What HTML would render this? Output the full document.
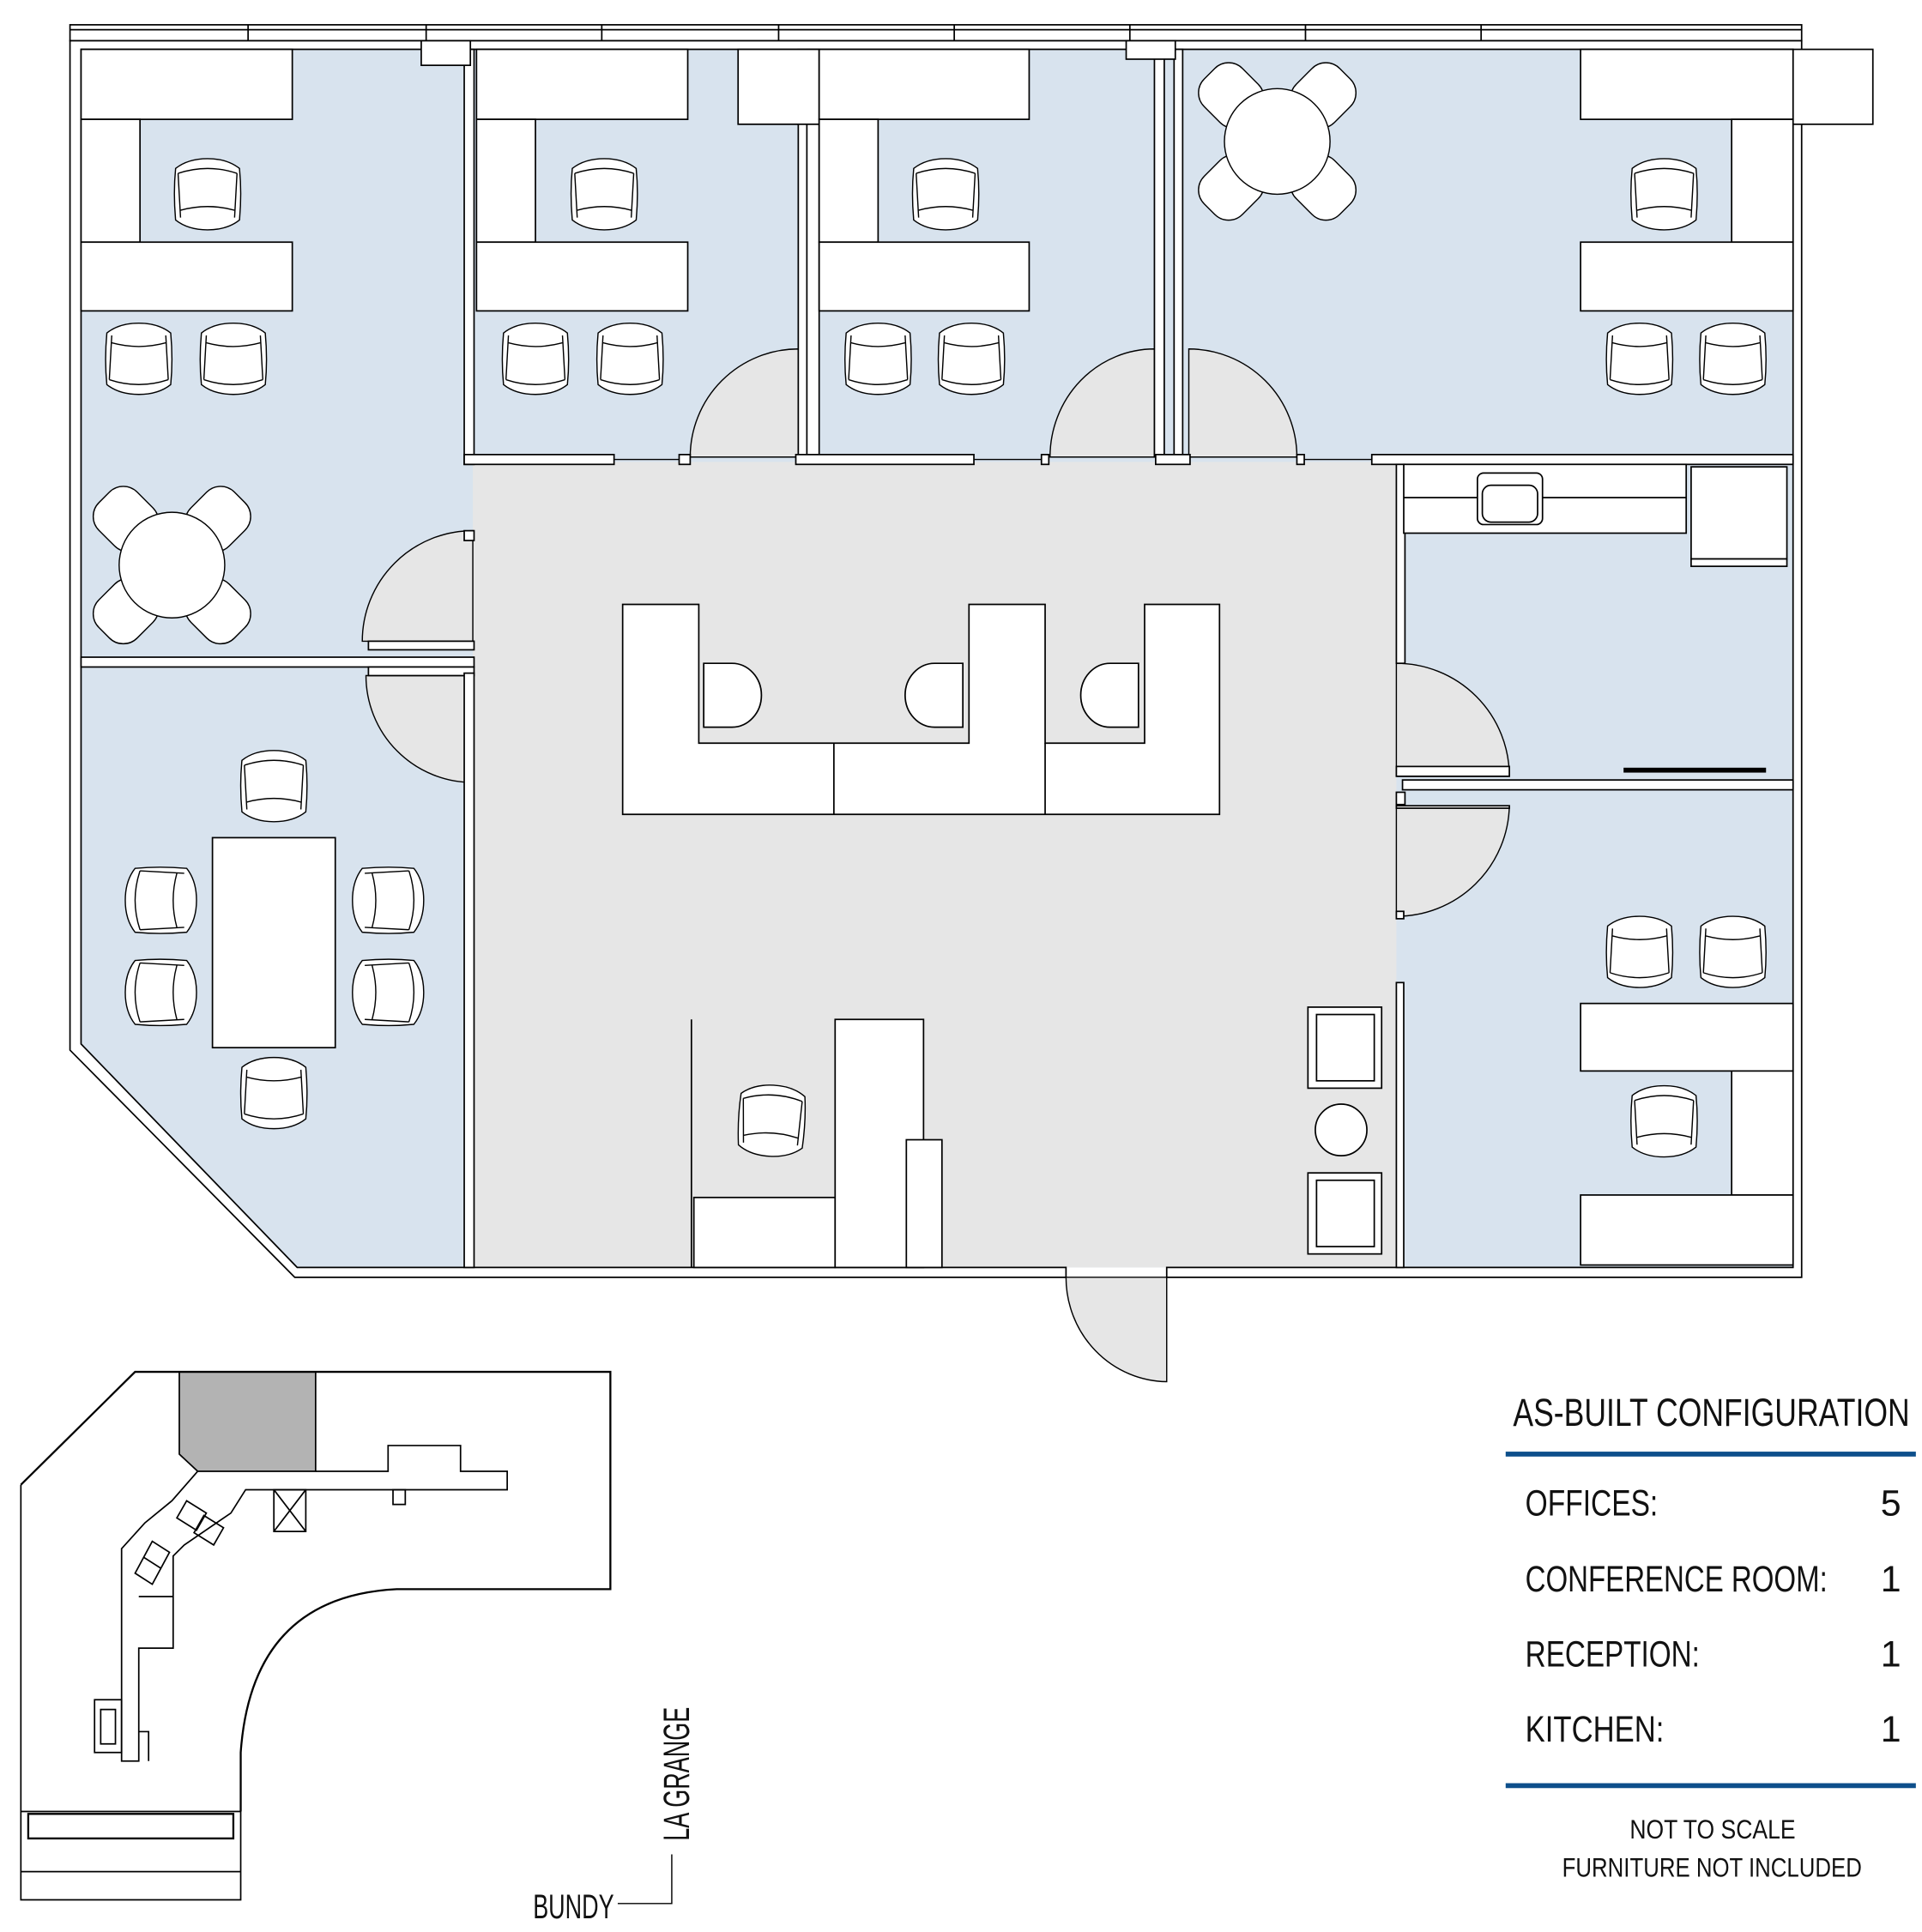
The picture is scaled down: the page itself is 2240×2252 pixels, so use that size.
<!DOCTYPE html>
<html><head><meta charset="utf-8"><style>
html,body{margin:0;padding:0;background:#fff}
svg{display:block}
text{font-family:"Liberation Sans Narrow","Liberation Sans",sans-serif;fill:#111}
</style></head><body>
<svg width="2240" height="2252" viewBox="0 0 1565 1573" xmlns="http://www.w3.org/2000/svg">
<defs>
<g id="ch" stroke="#000" stroke-width="1" fill="#fff">
<path d="M4,10 Q2,30 4,52 Q14,60 30,60 Q46,60 56,52 Q58,30 56,10 Q46,2 30,2 Q14,2 4,10Z"/>
<path d="M6,14 Q30,6 54,14 M6,14 L8,50 M54,14 L52,50"/>
<path d="M8,44 Q30,38 52,44" fill="none"/>
</g>
<g id="chu"><use href="#ch" transform="translate(0,60) scale(1,-1)"/></g>
<g id="rt" stroke="#000" stroke-width="1" fill="#fff">
<g transform="rotate(45)"><rect x="-22" y="-78" width="44" height="50" rx="16"/><rect x="-22" y="28" width="44" height="50" rx="16"/></g>
<g transform="rotate(-45)"><rect x="-22" y="-78" width="44" height="50" rx="16"/><rect x="-22" y="28" width="44" height="50" rx="16"/></g>
<circle r="43" fill="#fff"/>
</g>
</defs>
<g stroke="#000" stroke-width="1.2">
<rect x="57" y="20" width="1410" height="13" fill="#fff"/>
<path d="M57,24 H1467 M202,20 V33 M347,20 V33 M490,20 V33 M634,20 V33 M777,20 V33 M920,20 V33 M1063,20 V33 M1206,20 V33" fill="none"/>
<path d="M66,40 H1460 V1032 H242 L66,850 Z" fill="#d8e3ee" stroke="none"/>
<rect x="385" y="376" width="752" height="656" fill="#e6e6e6" stroke="none"/>
<path d="M57,33 H1467 V1040 H950 V1032 H1460 V40 H66 V850 L242,1032 H868 V1040 H240 L57,855 Z" fill="#fff"/>
<path d="M385,522 L385,432 A90,90 0 0 0 295,522 Z" fill="#e6e6e6" stroke-width="1"/>
<path d="M385,550 L298,550 A87,87 0 0 0 385,637 Z" fill="#e6e6e6" stroke-width="1"/>
<path d="M650,372 L562,372 A88,88 0 0 1 650,284 Z" fill="#e6e6e6" stroke-width="1"/>
<path d="M940,372 L855,372 A85,88 0 0 1 940,284 Z" fill="#e6e6e6" stroke-width="1"/>
<path d="M968,372 L968,284 A88,88 0 0 1 1056,372 Z" fill="#e6e6e6" stroke-width="1"/>
<path d="M1137,540 A92,92 0 0 1 1229,632 L1137,632 Z" fill="#e6e6e6" stroke-width="1"/>
<path d="M1229,656 A92,92 0 0 1 1137,746 L1137,656 Z" fill="#e6e6e6" stroke-width="1"/>
<path d="M868,1040 L950,1040 L950,1125 A83,85 0 0 1 868,1040 Z" fill="#e6e6e6" stroke-width="1"/>
<g fill="#fff">
<rect x="378" y="40" width="8" height="338"/>
<rect x="343" y="33" width="40" height="20"/>
<rect x="650" y="40" width="9" height="334"/>
<rect x="657" y="40" width="10" height="332"/>
<rect x="940" y="40" width="8" height="332"/>
<rect x="956" y="40" width="7" height="332"/>
<rect x="917" y="33" width="40" height="15"/>
<rect x="378" y="370" width="122" height="8"/>
<rect x="648" y="370" width="145" height="8"/>
<rect x="941" y="370" width="28" height="8"/>
<rect x="1117" y="370" width="343" height="8"/>
<rect x="66" y="535" width="320" height="8"/>
<rect x="300" y="522" width="86" height="7"/>
<rect x="300" y="543" width="86" height="7"/>
<rect x="378" y="432" width="8" height="8"/>
<rect x="1137" y="378" width="7" height="162"/>
<rect x="1137" y="624" width="92" height="8"/>
<rect x="1142" y="635" width="318" height="8"/>
<rect x="1137" y="645" width="7" height="10"/>
<rect x="1137" y="656" width="92" height="2"/>
<rect x="1137" y="800" width="6" height="232"/>
<rect x="1137" y="742" width="6" height="6"/>
<rect x="378" y="548" width="8" height="484"/>
<rect x="553" y="370" width="9" height="8"/>
<rect x="848" y="370" width="6" height="8"/>
<rect x="1056" y="370" width="6" height="8"/>
<rect x="1460" y="40" width="65" height="61"/>
</g>
<path d="M500,374 H553 M793,374 H848 M1062,374 H1117" fill="none" stroke-width="1"/>
<g fill="#fff">
<rect x="66" y="40" width="172" height="57"/><rect x="66" y="97" width="48" height="100"/><rect x="66" y="197" width="172" height="56"/>
<rect x="388" y="40" width="172" height="57"/><rect x="388" y="97" width="48" height="100"/><rect x="388" y="197" width="172" height="56"/>
<rect x="601" y="40" width="66" height="61"/>
<rect x="667" y="40" width="171" height="57"/><rect x="667" y="97" width="48" height="100"/><rect x="667" y="197" width="171" height="56"/>
<rect x="1287" y="40" width="173" height="57"/><rect x="1410" y="97" width="50" height="100"/><rect x="1287" y="197" width="173" height="56"/>
<rect x="1143" y="378" width="230" height="56"/><line x1="1143" y1="405" x2="1373" y2="405"/>
<rect x="1203" y="385" width="53" height="42" rx="5"/><rect x="1207" y="395" width="45" height="30" rx="7"/>
<rect x="1377" y="380" width="78" height="75"/><rect x="1377" y="455" width="78" height="6"/>
<rect x="1287" y="817" width="173" height="55"/><rect x="1410" y="872" width="50" height="101"/><rect x="1287" y="973" width="173" height="57"/>
<rect x="173" y="682" width="100" height="171"/>
<path d="M507,492 H569 V605 H789 V492 H851 V605 H932 V492 H993 V663 H507 Z"/>
<path d="M679,605 V663 M851,605 V663" fill="none"/>
<path d="M573,540 H596 A24,26 0 0 1 596,592 H573 Z"/>
<path d="M784,540 H761 A24,26 0 0 0 761,592 H784 Z"/>
<path d="M927,540 H904 A24,26 0 0 0 904,592 H927 Z"/>
<rect x="565" y="975" width="115" height="57"/><rect x="680" y="830" width="72" height="202"/><rect x="738" y="928" width="29" height="104"/>
<line x1="563" y1="830" x2="563" y2="1032"/>
<rect x="1065" y="820" width="60" height="66"/><rect x="1072" y="826" width="47" height="54"/>
<rect x="1065" y="955" width="60" height="66"/><rect x="1072" y="961" width="47" height="54"/>
<circle cx="1092" cy="920" r="21"/>
</g>
<rect x="1322" y="625" width="116" height="4" fill="#000" stroke="none"/>
</g>
<use href="#ch" x="139" y="127"/><use href="#chu" x="83" y="263"/><use href="#chu" x="160" y="263"/>
<use href="#ch" x="462" y="127"/><use href="#chu" x="406" y="263"/><use href="#chu" x="483" y="263"/>
<use href="#ch" x="740" y="127"/><use href="#chu" x="685" y="263"/><use href="#chu" x="761" y="263"/>
<use href="#ch" x="1325" y="127"/><use href="#chu" x="1305" y="263"/><use href="#chu" x="1381" y="263"/>
<use href="#chu" x="1305" y="746"/><use href="#chu" x="1381" y="746"/><use href="#ch" x="1325" y="882"/>
<use href="#ch" x="193" y="609"/><use href="#chu" x="193" y="861"/>
<use href="#ch" transform="translate(100,763) rotate(-90)"/><use href="#ch" transform="translate(100,838) rotate(-90)"/>
<use href="#ch" transform="translate(347,703) rotate(90)"/><use href="#ch" transform="translate(347,778) rotate(90)"/>
<use href="#ch" transform="translate(600,880) rotate(3)"/>
<use href="#rt" transform="translate(140,460)"/>
<use href="#rt" transform="translate(1040,115)"/>
<!-- minimap -->
<g stroke="#000" fill="none" stroke-width="1.2">
<path d="M146,1117 H257 V1198 H161 L146,1184 Z" fill="#b3b3b3"/>
<path d="M17,1209 L110,1117 H497 V1294 H323 Q205,1300 196,1427 V1475" stroke-width="1.6"/>
<path d="M17,1209 V1475"/>
<path d="M17,1475 V1547 H196 V1475 M17,1524 H196 M17,1475 H196"/>
<path d="M23,1477 H190 V1497 H23 Z" stroke-width="1.6"/>
<path d="M161,1198 L140,1222 L118,1240 L99,1261 V1434 H113 V1342 H141 V1267 L150,1258 L188,1232 L200,1213 H413 V1198 H375 V1177 H316 V1198 H257"/>
<path d="M223,1213 H249 V1247 H223 Z M223,1213 L249,1247 M249,1213 L223,1247"/>
<path d="M320,1213 H330 V1225 H320 Z"/>
<path d="M152,1222 L168,1232 L160,1246 L144,1236 Z M166,1234 L182,1244 L174,1258 L158,1248 Z"/>
<path d="M124,1255 L138,1264 L131,1277 L117,1268 Z M117,1268 L131,1277 L124,1290 L110,1281 Z"/>
<path d="M113,1300 H141"/>
<path d="M77,1384 H99 V1427 H77 Z M82,1392 H94 V1420 H82 Z"/>
<path d="M113,1410 H121 V1434"/>
</g>
<g stroke="#000" stroke-width="1" fill="none">
<path d="M503,1550 H547 V1510"/>
</g>
<text x="0" y="0" font-size="30" transform="translate(561,1499) rotate(-90)" textLength="109" lengthAdjust="spacingAndGlyphs">LA GRANGE</text>
<text x="434" y="1562" font-size="28" textLength="66" lengthAdjust="spacingAndGlyphs">BUNDY</text>
<text x="1232" y="1161" font-size="32" textLength="323" lengthAdjust="spacingAndGlyphs">AS-BUILT CONFIGURATION</text>
<rect x="1226" y="1182" width="334" height="4" fill="#0d4f8b"/>
<text x="1242" y="1234" font-size="30" textLength="108" lengthAdjust="spacingAndGlyphs">OFFICES:</text>
<text x="1548" y="1234" font-size="30" text-anchor="end">5</text>
<text x="1242" y="1296" font-size="30" textLength="246" lengthAdjust="spacingAndGlyphs">CONFERENCE ROOM:</text>
<text x="1548" y="1296" font-size="30" text-anchor="end">1</text>
<text x="1242" y="1357" font-size="30" textLength="142" lengthAdjust="spacingAndGlyphs">RECEPTION:</text>
<text x="1548" y="1357" font-size="30" text-anchor="end">1</text>
<text x="1242" y="1418" font-size="30" textLength="113" lengthAdjust="spacingAndGlyphs">KITCHEN:</text>
<text x="1548" y="1418" font-size="30" text-anchor="end">1</text>
<rect x="1226" y="1452" width="334" height="4" fill="#0d4f8b"/>
<text x="1327" y="1497" font-size="22" textLength="135" lengthAdjust="spacingAndGlyphs">NOT TO SCALE</text>
<text x="1272" y="1528" font-size="22" textLength="244" lengthAdjust="spacingAndGlyphs">FURNITURE NOT INCLUDED</text>
</svg>
</body></html>
